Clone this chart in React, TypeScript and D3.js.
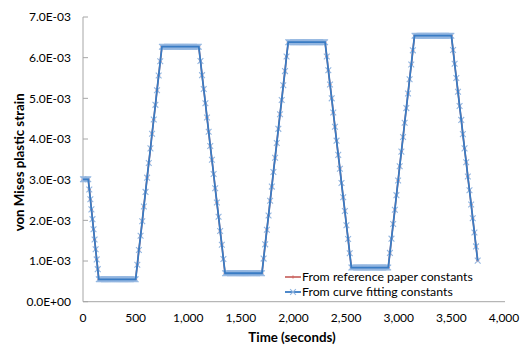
import React from "react";
import * as d3 from "d3";

// Time (seconds) of each recorded point
const time: number[] = [
  0, 10, 20, 30, 40, 50,
  60, 70, 80, 90, 100, 110, 120, 130, 140, 150,
  160, 170, 180, 190, 200, 210, 220, 230, 240, 250, 260, 270, 280, 290, 300, 310, 320, 330, 340, 350, 360, 370, 380, 390, 400, 410, 420, 430, 440, 450, 460, 470, 480, 490, 500,
  516, 531, 547, 563, 578, 594, 609, 625, 641, 656, 672, 688, 703, 719, 734, 750,
  760, 770, 780, 790, 800, 810, 820, 830, 840, 850, 860, 870, 880, 890, 900, 910, 920, 930, 940, 950, 960, 970, 980, 990, 1000, 1010, 1020, 1030, 1040, 1050, 1060, 1070, 1080, 1090, 1100,
  1116, 1131, 1147, 1163, 1178, 1194, 1209, 1225, 1241, 1256, 1272, 1288, 1303, 1319, 1334, 1350,
  1360, 1370, 1380, 1390, 1400, 1410, 1420, 1430, 1440, 1450, 1460, 1470, 1480, 1490, 1500, 1510, 1520, 1530, 1540, 1550, 1560, 1570, 1580, 1590, 1600, 1610, 1620, 1630, 1640, 1650, 1660, 1670, 1680, 1690, 1700,
  1716, 1731, 1747, 1763, 1778, 1794, 1809, 1825, 1841, 1856, 1872, 1888, 1903, 1919, 1934, 1950,
  1960, 1970, 1980, 1990, 2000, 2010, 2020, 2030, 2040, 2050, 2060, 2070, 2080, 2090, 2100, 2110, 2120, 2130, 2140, 2150, 2160, 2170, 2180, 2190, 2200, 2210, 2220, 2230, 2240, 2250, 2260, 2270, 2280, 2290, 2300,
  2316, 2331, 2347, 2363, 2378, 2394, 2409, 2425, 2441, 2456, 2472, 2488, 2503, 2519, 2534, 2550,
  2560, 2570, 2580, 2590, 2600, 2610, 2620, 2630, 2640, 2650, 2660, 2670, 2680, 2690, 2700, 2710, 2720, 2730, 2740, 2750, 2760, 2770, 2780, 2790, 2800, 2810, 2820, 2830, 2840, 2850, 2860, 2870, 2880, 2890, 2900,
  2916, 2931, 2947, 2963, 2978, 2994, 3009, 3025, 3041, 3056, 3072, 3088, 3103, 3119, 3134, 3150,
  3160, 3170, 3180, 3190, 3200, 3210, 3220, 3230, 3240, 3250, 3260, 3270, 3280, 3290, 3300, 3310, 3320, 3330, 3340, 3350, 3360, 3370, 3380, 3390, 3400, 3410, 3420, 3430, 3440, 3450, 3460, 3470, 3480, 3490, 3500,
  3516, 3531, 3547, 3563, 3578, 3594, 3609, 3625, 3641, 3656, 3672, 3688, 3703, 3719, 3734, 3750,
];

// von Mises plastic strain, in units of 1E-03, curve-fitting constants
const strainFitE3: number[] = [
  3.01, 3.01, 3.01, 3.01, 3.01, 3.01,
  2.76, 2.52, 2.27, 2.03, 1.78, 1.53, 1.29, 1.04, 0.80, 0.55,
  0.55, 0.55, 0.55, 0.55, 0.55, 0.55, 0.55, 0.55, 0.55, 0.55, 0.55, 0.55, 0.55, 0.55, 0.55, 0.55, 0.55, 0.55, 0.55, 0.55, 0.55, 0.55, 0.55, 0.55, 0.55, 0.55, 0.55, 0.55, 0.55, 0.55, 0.55, 0.55, 0.55, 0.55, 0.55,
  0.91, 1.27, 1.62, 1.98, 2.34, 2.70, 3.05, 3.41, 3.77, 4.13, 4.48, 4.84, 5.20, 5.56, 5.91, 6.27,
  6.27, 6.27, 6.27, 6.27, 6.27, 6.27, 6.27, 6.27, 6.27, 6.27, 6.27, 6.27, 6.27, 6.27, 6.27, 6.27, 6.27, 6.27, 6.27, 6.27, 6.27, 6.27, 6.27, 6.27, 6.27, 6.27, 6.27, 6.27, 6.27, 6.27, 6.27, 6.27, 6.27, 6.27, 6.27,
  5.92, 5.57, 5.23, 4.88, 4.53, 4.18, 3.83, 3.49, 3.14, 2.79, 2.44, 2.09, 1.74, 1.40, 1.05, 0.70,
  0.70, 0.70, 0.70, 0.70, 0.70, 0.70, 0.70, 0.70, 0.70, 0.70, 0.70, 0.70, 0.70, 0.70, 0.70, 0.70, 0.70, 0.70, 0.70, 0.70, 0.70, 0.70, 0.70, 0.70, 0.70, 0.70, 0.70, 0.70, 0.70, 0.70, 0.70, 0.70, 0.70, 0.70, 0.70,
  1.06, 1.41, 1.77, 2.12, 2.48, 2.83, 3.19, 3.54, 3.90, 4.25, 4.61, 4.96, 5.32, 5.67, 6.03, 6.38,
  6.38, 6.38, 6.38, 6.38, 6.38, 6.38, 6.38, 6.38, 6.38, 6.38, 6.38, 6.38, 6.38, 6.38, 6.38, 6.38, 6.38, 6.38, 6.38, 6.38, 6.38, 6.38, 6.38, 6.38, 6.38, 6.38, 6.38, 6.38, 6.38, 6.38, 6.38, 6.38, 6.38, 6.38, 6.38,
  6.03, 5.69, 5.34, 5.00, 4.65, 4.30, 3.96, 3.61, 3.27, 2.92, 2.57, 2.23, 1.88, 1.54, 1.19, 0.84,
  0.84, 0.84, 0.84, 0.84, 0.84, 0.84, 0.84, 0.84, 0.84, 0.84, 0.84, 0.84, 0.84, 0.84, 0.84, 0.84, 0.84, 0.84, 0.84, 0.84, 0.84, 0.84, 0.84, 0.84, 0.84, 0.84, 0.84, 0.84, 0.84, 0.84, 0.84, 0.84, 0.84, 0.84, 0.84,
  1.20, 1.55, 1.91, 2.26, 2.62, 2.98, 3.33, 3.69, 4.05, 4.40, 4.76, 5.12, 5.47, 5.83, 6.18, 6.54,
  6.54, 6.54, 6.54, 6.54, 6.54, 6.54, 6.54, 6.54, 6.54, 6.54, 6.54, 6.54, 6.54, 6.54, 6.54, 6.54, 6.54, 6.54, 6.54, 6.54, 6.54, 6.54, 6.54, 6.54, 6.54, 6.54, 6.54, 6.54, 6.54, 6.54, 6.54, 6.54, 6.54, 6.54, 6.54,
  6.19, 5.85, 5.50, 5.16, 4.81, 4.47, 4.12, 3.77, 3.43, 3.08, 2.74, 2.39, 2.05, 1.70, 1.36, 1.01,
];

// Reference paper constants give the same curve at this scale
const strainRefE3: number[] = strainFitE3;

const seriesNames: string[] = ["From reference paper constants", "From curve fitting constants"];
const xTicks: number[] = [0, 500, 1000, 1500, 2000, 2500, 3000, 3500, 4000];
const yTicks: number[] = [0, 0.001, 0.002, 0.003, 0.004, 0.005, 0.006, 0.007];

const W = 531;
const H = 355;
const FONT = "Lato, 'Liberation Sans', sans-serif";

const fmtY = (v: number) => {
  const [m, e] = v.toExponential(1).split("e");
  const n = parseInt(e, 10);
  const sign = n < 0 ? "-" : "+";
  return `${m}E${sign}${String(Math.abs(n)).padStart(2, "0")}`;
};
const fmtX = d3.format(",");

export default function App() {
  const left = 83, right = 504, top = 17, bottom = 301.7;
  const x = d3.scaleLinear().domain([0, 4000]).range([left, right]);
  const y = d3.scaleLinear().domain([0, 0.007]).range([bottom, top]);

  const ref = time.map((t, i) => [t, strainRefE3[i] * 1e-3] as [number, number]);
  const fit = time.map((t, i) => [t, strainFitE3[i] * 1e-3] as [number, number]);
  const line = d3.line<[number, number]>().x((d) => x(d[0])).y((d) => y(d[1]));

  const red = "#C0504D";
  const redMark = "#D2605C";
  const blue = "#3A7CC4";
  const blueMark = "#93B6E0";
  const ms = 2.9;

  const legendX = 285, legendY1 = 277, legendY2 = 292;

  return (
    <svg width={W} height={H} style={{ position: "absolute", left: 0, top: 0, background: "#fff" }}>
      <rect x={0} y={0} width={W} height={H} fill="#fff" />
      {/* axes */}
      <line x1={left} x2={left} y1={top} y2={bottom} stroke="#A6A6A6" strokeWidth={1} />
      <line x1={left} x2={right + 1} y1={bottom} y2={bottom} stroke="#A6A6A6" strokeWidth={1} />
      {yTicks.map((v) => (
        <g key={v}>
          <line x1={left} x2={left + 5} y1={y(v)} y2={y(v)} stroke="#A6A6A6" />
          <text x={71} y={y(v)} dy="0.36em" textAnchor="end" fontFamily={FONT} fontSize={12} fill="#000">
            {fmtY(v)}
          </text>
        </g>
      ))}
      {xTicks.map((v) => (
        <text key={v} x={x(v)} y={322} textAnchor="middle" fontFamily={FONT} fontSize={12} fill="#000">
          {fmtX(v)}
        </text>
      ))}
      <text x={292} y={342} textAnchor="middle" fontFamily={FONT} fontSize={13.3} fontWeight="bold">
        Time (seconds)
      </text>
      <text
        transform={`translate(24, ${(top + bottom) / 2 + 3}) rotate(-90)`}
        textAnchor="middle"
        fontFamily={FONT}
        fontSize={13.3}
        fontWeight="bold"
      >
        von Mises plastic strain
      </text>

      {/* red series */}
      <path d={line(ref) || ""} fill="none" stroke={red} strokeWidth={1.5} />
      {ref.map((d, i) => (
        <path key={"r" + i} d={`M${x(d[0]) - 1.5},${y(d[1])}h3M${x(d[0])},${y(d[1]) - 1.5}v3`} stroke={redMark} strokeWidth={1} />
      ))}
      {/* blue series */}
      {fit.map((d, i) => {
        const cx = x(d[0]), cy = y(d[1]);
        return (
          <path
            key={"b" + i}
            d={`M${cx - ms},${cy - ms}L${cx + ms},${cy + ms}M${cx - ms},${cy + ms}L${cx + ms},${cy - ms}`}
            stroke={blueMark}
            strokeWidth={1.1}
          />
        );
      })}
      <path d={line(fit) || ""} fill="none" stroke={blue} strokeWidth={1.8} />

      {/* legend */}
      <line x1={legendX} x2={legendX + 16} y1={legendY1} y2={legendY1} stroke={red} strokeWidth={1.5} />
      <path d={`M${legendX + 8},${legendY1 - 1.5}v3`} stroke={redMark} />
      <text x={302} y={legendY1} dy="0.36em" fontFamily={FONT} fontSize={12.3}>{seriesNames[0]}</text>
      <line x1={legendX} x2={legendX + 16} y1={legendY2} y2={legendY2} stroke={blue} strokeWidth={1.8} />
      <path
        d={`M${legendX + 8 - ms},${legendY2 - ms}L${legendX + 8 + ms},${legendY2 + ms}M${legendX + 8 - ms},${legendY2 + ms}L${legendX + 8 + ms},${legendY2 - ms}`}
        stroke={blueMark}
        strokeWidth={1.1}
      />
      <text x={302} y={legendY2} dy="0.36em" fontFamily={FONT} fontSize={12.3}>{seriesNames[1]}</text>
    </svg>
  );
}
